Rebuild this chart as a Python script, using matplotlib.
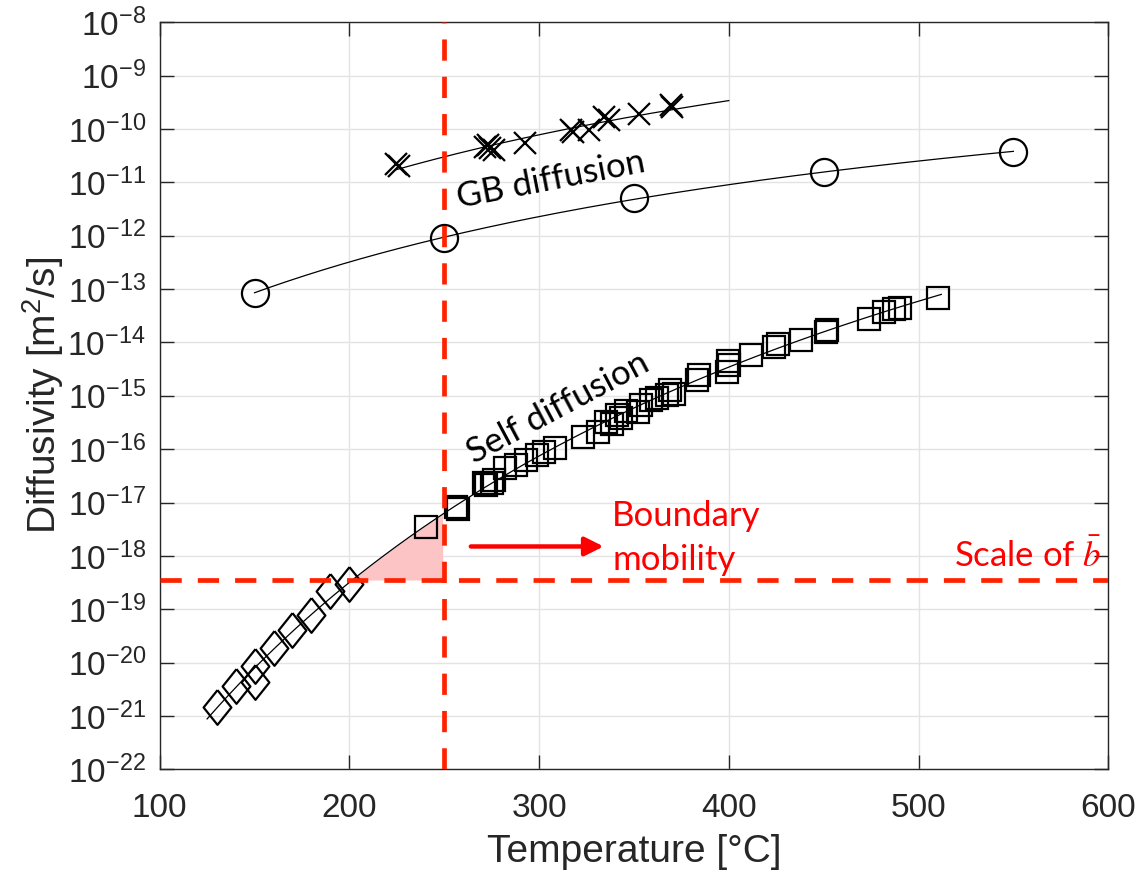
import matplotlib.pyplot as plt
import numpy as np
from matplotlib.ticker import FixedLocator, FuncFormatter, NullLocator

plt.rcParams['font.family'] = ['Liberation Sans', 'DejaVu Sans']
plt.rcParams['mathtext.fontset'] = 'custom'
plt.rcParams['mathtext.rm'] = 'Liberation Sans'
plt.rcParams['mathtext.it'] = 'Liberation Sans:italic'

# self diffusion, low temperature set (diamonds)
T_low = [130, 140, 150, 150, 160, 170, 180, 190, 200]
D_low = [1.48e-21, 3.6e-21, 4.4e-21, 8.7e-21, 1.86e-20, 4.1e-20, 7.9e-20, 2.2e-19, 3.0e-19]

# self diffusion, high temperature set (squares)
T_high = [240.5, 256, 257, 271, 272, 275, 276, 282, 288, 293, 299, 302.5, 308.6,
          323, 331, 335, 338.6, 341, 343, 346, 352, 353.5, 359, 362, 367.6, 369, 371,
          383.4, 384.3, 399, 400, 399.5, 411.6, 424, 425.7, 438, 451, 452,
          474, 482, 487, 490, 510]
D_high = [3.5e-18, 8.3e-18, 7.6e-18, 2.3e-17, 2.1e-17, 2.3e-17, 2.6e-17, 4.4e-17, 5.0e-17,
          6.3e-17, 7.8e-17, 8.9e-17, 1.05e-16,
          1.7e-16, 2.1e-16, 3.2e-16, 3.0e-16, 4.4e-16, 3.8e-16, 5.2e-16, 5.0e-16, 6.8e-16,
          8.3e-16, 9.0e-16, 1.02e-15, 1.29e-15, 1.1e-15,
          2.0e-15, 2.45e-15, 2.8e-15, 3.8e-15, 4.4e-15, 5.8e-15, 8.3e-15, 9.5e-15,
          1.12e-14, 1.6e-14, 1.7e-14,
          2.7e-14, 3.8e-14, 4.2e-14, 4.4e-14, 6.8e-14]

# grain boundary diffusion (crosses)
T_gbx = [224.5, 225.9, 271.7, 272.8, 274.3, 276, 292.8, 316.6, 318, 326.2,
         334.1, 336.8, 352.6, 369.3, 370]
D_gbx = [2.2e-11, 2.0e-11, 4.7e-11, 5.0e-11, 4.4e-11, 4.0e-11, 5.4e-11, 9.5e-11, 8.7e-11,
         9.5e-11, 1.7e-10, 1.48e-10, 1.95e-10, 2.8e-10, 2.6e-10]

# grain boundary diffusion (circles)
T_gbo = [150, 250, 350, 450, 550]
D_gbo = [8.5e-14, 9.1e-13, 5.2e-12, 1.55e-11, 3.7e-11]

T_cut = 250       # vertical marker
D_cut = 3.53e-19  # scale of b-bar


def arrhenius(T, D, Tfit):
    # straight line of log10(D) against 1/T in kelvin
    p = np.polyfit(1 / (np.array(T) + 273.15), np.log10(D), 1)
    return 10 ** np.polyval(p, 1 / (Tfit + 273.15))


T_self = T_low + T_high
D_self = D_low + D_high
Tf_self = np.linspace(125, 512, 400)
Df_self = arrhenius(T_self, D_self, Tf_self)
Tf_gbx = np.linspace(min(T_gbx), 400, 200)
Df_gbx = arrhenius(T_gbx, D_gbx, Tf_gbx)
Tf_gbo = np.linspace(150, 550, 200)
Df_gbo = arrhenius(T_gbo, D_gbo, Tf_gbo)

fig = plt.figure(figsize=(11.39, 8.72), dpi=100)
ax = fig.add_axes([0.1402, 0.1178, 0.9730 - 0.1402, 0.9744 - 0.1178])

# shaded window between the fit and the b-bar level, left of the cut
mask = (Tf_self <= T_cut) & (Df_self >= D_cut)
ax.fill_between(Tf_self[mask], D_cut, Df_self[mask], color='#fcc4c4', lw=0, zorder=1)

ax.plot(Tf_self, Df_self, color='k', lw=0.9, zorder=2)
ax.plot(Tf_gbx, Df_gbx, color='k', lw=0.9, zorder=2)
ax.plot(Tf_gbo, Df_gbo, color='k', lw=0.9, zorder=2)

diamond = [(0, 1), (0.8, 0), (0, -1), (-0.8, 0), (0, 1)]
ax.plot(T_low, D_low, ls='none', marker=diamond, ms=25, mfc='none', mec='k', mew=1.6, zorder=3)
ax.plot(T_high, D_high, ls='none', marker='s', ms=16.5, mfc='none', mec='k', mew=1.6, zorder=3)
ax.plot(T_gbx, D_gbx, ls='none', marker='x', ms=16, mec='k', mew=1.6, zorder=3)
ax.plot(T_gbo, D_gbo, ls='none', marker='o', ms=19.5, mfc='none', mec='k', mew=1.6, zorder=3)

red = '#ff2200'
ax.axvline(T_cut, color=red, lw=3.4, dashes=(4.5, 3.4), zorder=4)
ax.axhline(D_cut, color=red, lw=3.4, dashes=(4.5, 3.4), zorder=4)

ax.annotate('', xy=(334, 1.5e-18), xytext=(264, 1.5e-18),
            arrowprops=dict(arrowstyle='-|>', color='red', lw=3.2, mutation_scale=28,
                            shrinkA=0, shrinkB=0), zorder=5)

note = ['Lato', 'DejaVu Sans']
ax.text(306, 1.1e-11, 'GB diffusion', family=note, fontsize=25, rotation=11,
        ha='center', va='center', rotation_mode='anchor')
ax.text(310, 5.9e-16, 'Self diffusion', family=note, fontsize=25, rotation=28,
        ha='center', va='center', rotation_mode='anchor')
ax.text(338.5, 2.16e-18, 'Boundary\nmobility', family=note, fontsize=25, color='red',
        ha='left', va='center', linespacing=1.45)
ax.text(0.9926, 6.2e-19, r'Scale of $\bar{b}$', family=note, fontsize=25, color='red',
        ha='right', va='baseline', math_fontfamily='stix',
        transform=ax.get_yaxis_transform())

ax.set_yscale('log')
ax.set_xlim(100, 600)
ax.set_ylim(1e-22, 1e-8)
ax.xaxis.set_major_locator(FixedLocator([100, 200, 300, 400, 500, 600]))
ax.yaxis.set_major_locator(FixedLocator([10.0 ** k for k in range(-22, -7)]))
ax.yaxis.set_minor_locator(NullLocator())
ax.yaxis.set_major_formatter(FuncFormatter(
    lambda v, pos: r'$\mathregular{10^{%d}}$' % round(np.log10(v))))

ax.grid(True, color='#e3e3e3', lw=1.0)
ax.set_axisbelow(True)
for s in ax.spines.values():
    s.set_color('#262626')
    s.set_linewidth(1.0)
ax.tick_params(which='major', direction='in', length=10, width=1.0, color='#262626',
               top=True, right=True, labelsize=24, labelcolor='#262626')
ax.tick_params(axis='x', pad=17)
ax.tick_params(axis='y', pad=10)

ax.set_xlabel('Temperature [°C]', fontsize=28, color='#262626')
ax.set_ylabel(r'Diffusivity [m$\mathregular{^2}$/s]', fontsize=28, color='#262626')
ax.xaxis.set_label_coords(0.5, -0.086)
ax.yaxis.set_label_coords(-0.099, 0.5)

plt.savefig('out.png', dpi=100)
